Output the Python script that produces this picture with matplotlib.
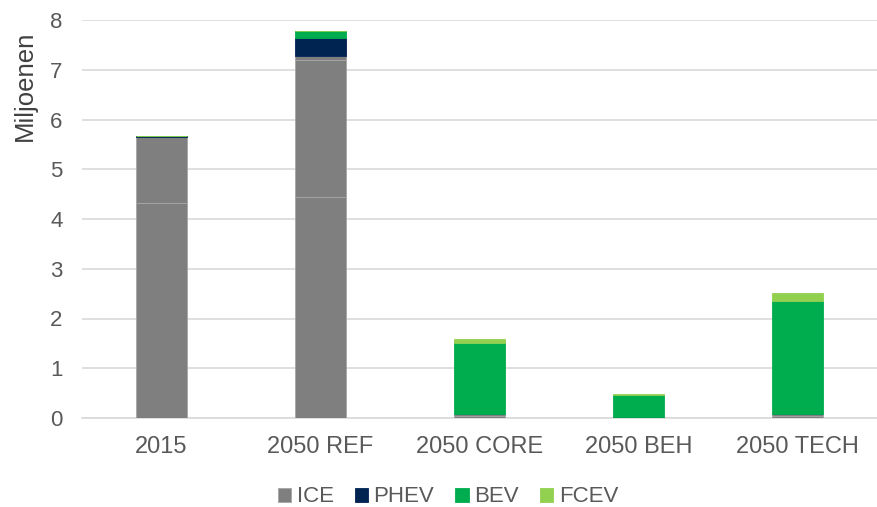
import numpy as np
import matplotlib.pyplot as plt

plt.rcParams['font.family'] = ['Liberation Sans', 'DejaVu Sans']

# scenarios and vehicle stock (millions)
scenarios = ['2015', '2050 REF', '2050 CORE', '2050 BEH', '2050 TECH']
ice_1 = [4.32, 4.44, 0.04, 0.01, 0.05]
ice_2 = [1.33, 2.76, 0.04, 0.01, 0.04]
ice_3 = [0.00, 0.08, 0.00, 0.00, 0.00]
phev = [0.01, 0.36, 0.00, 0.00, 0.00]
bev = [0.01, 0.14, 1.42, 0.45, 2.27]
fcev = [0.00, 0.00, 0.09, 0.02, 0.16]

colors = {'ICE': '#7f7f7f', 'PHEV': '#002452', 'BEV': '#00ad4e', 'FCEV': '#92d050'}
text_color = '#595959'

fig = plt.figure(figsize=(8.78, 5.07), dpi=100)
ax = fig.add_axes([82 / 878, 89 / 507, 795 / 878, 398 / 507])

x = np.arange(len(scenarios))
w = 0.315
bottom = np.zeros(len(scenarios))
series = [('ICE', ice_1), (None, ice_2), (None, ice_3),
          ('PHEV', phev), ('BEV', bev), ('FCEV', fcev)]
for name, vals in series:
    vals = np.array(vals)
    c = colors[name] if name else colors['ICE']
    ax.bar(x, vals, w, bottom=bottom, color=c, label=name if name else '_nolegend_',
           edgecolor='#a6a6a6' if c == colors['ICE'] else c, linewidth=0.6, zorder=3)
    bottom += vals

ax.set_xlim(-0.5, len(scenarios) - 0.5)
ax.set_ylim(0, 8)
ax.set_yticks(range(0, 9))
ax.set_xticks(x)
ax.set_xticklabels(scenarios)
ax.yaxis.grid(True, color='#d9d9d9', linewidth=1.2, zorder=0)
ax.set_axisbelow(True)
for s in ['top', 'right', 'left']:
    ax.spines[s].set_visible(False)
ax.spines['bottom'].set_color('#d9d9d9')
ax.spines['bottom'].set_linewidth(1.2)
ax.tick_params(axis='x', length=0, labelsize=17, colors=text_color, pad=13)
ax.tick_params(axis='y', length=0, labelsize=16, colors=text_color, pad=14)
ax.set_ylabel('Miljoenen', fontsize=18.5, color='#404040')
ax.yaxis.set_label_coords((37 - 82) / 795, (418 - 86) / 398)

# legend sits a bit left of the plot centre, like the original
ax.legend(loc='center', bbox_to_anchor=((448 - 82) / 795, (418 - 497) / 398), ncol=4,
          frameon=False, fontsize=16, handlelength=0.6, handleheight=0.6,
          handletextpad=0.25, columnspacing=0.95, labelcolor=text_color)

fig.savefig('out.png', dpi=100)
